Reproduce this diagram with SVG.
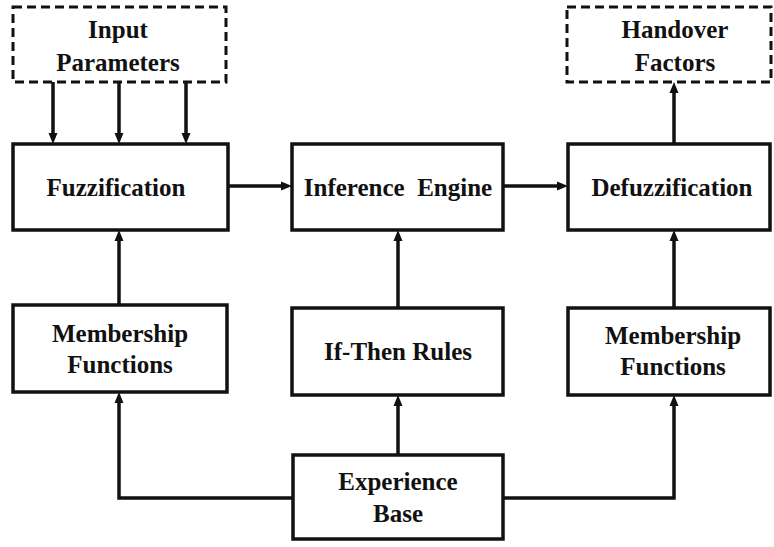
<svg xmlns="http://www.w3.org/2000/svg" width="774" height="547" viewBox="0 0 774 547">
<rect width="774" height="547" fill="#fff"/>
<g id="connectors">
<g fill="none" stroke="#111" stroke-width="3.5">
<line x1="53" y1="82" x2="53" y2="134"/>
<line x1="119" y1="82" x2="119" y2="134"/>
<line x1="186" y1="82" x2="186" y2="134"/>
<line x1="228" y1="186" x2="282" y2="186"/>
<line x1="503" y1="186" x2="558" y2="186"/>
<line x1="674" y1="144" x2="674" y2="92"/>
<line x1="119" y1="305" x2="119" y2="240"/>
<line x1="398" y1="308" x2="398" y2="240"/>
<line x1="674" y1="308" x2="674" y2="240"/>
<line x1="398" y1="455" x2="398" y2="405"/>
<polyline points="293,498 119,498 119,402"/>
<polyline points="503,498 674,498 674,405"/>
</g>
<g fill="#111">
<polygon points="48.5,133 57.5,133 53,144"/>
<polygon points="114.5,133 123.5,133 119,144"/>
<polygon points="181.5,133 190.5,133 186,144"/>
<polygon points="281,181.5 281,190.5 292,186"/>
<polygon points="557,181.5 557,190.5 568,186"/>
<polygon points="669.5,93 678.5,93 674,82"/>
<polygon points="114.5,241 123.5,241 119,230"/>
<polygon points="393.5,241 402.5,241 398,230"/>
<polygon points="669.5,241 678.5,241 674,230"/>
<polygon points="393.5,406 402.5,406 398,395"/>
<polygon points="114.5,403 123.5,403 119,392"/>
<polygon points="669.5,406 678.5,406 674,395"/>
</g>
</g>
<g id="input">
<rect x="13" y="7" width="213" height="75" fill="#fff" stroke="#111" stroke-width="3" stroke-dasharray="9 5"/>
<text x="118" y="38" font-family="Liberation Serif" font-weight="bold" font-size="25" text-anchor="middle" fill="#111">Input</text>
<text x="118" y="71" font-family="Liberation Serif" font-weight="bold" font-size="25" text-anchor="middle" fill="#111">Parameters</text>
</g>
<g id="handover">
<rect x="567" y="7" width="204" height="75" fill="#fff" stroke="#111" stroke-width="3" stroke-dasharray="9 5"/>
<text x="675" y="38" font-family="Liberation Serif" font-weight="bold" font-size="25" text-anchor="middle" fill="#111">Handover</text>
<text x="675" y="71" font-family="Liberation Serif" font-weight="bold" font-size="25" text-anchor="middle" fill="#111">Factors</text>
</g>
<g id="fuzzification">
<rect x="13" y="144" width="215" height="86" fill="#fff" stroke="#111" stroke-width="3.5"/>
<text x="116" y="196" font-family="Liberation Serif" font-weight="bold" font-size="25" text-anchor="middle" fill="#111">Fuzzification</text>
</g>
<g id="inference">
<rect x="292" y="144" width="211" height="86" fill="#fff" stroke="#111" stroke-width="3.5"/>
<text x="398" y="196" font-family="Liberation Serif" font-weight="bold" font-size="25" text-anchor="middle" fill="#111" xml:space="preserve">Inference  Engine</text>
</g>
<g id="defuzzification">
<rect x="568" y="144" width="202" height="86" fill="#fff" stroke="#111" stroke-width="3.5"/>
<text x="672" y="196" font-family="Liberation Serif" font-weight="bold" font-size="25" text-anchor="middle" fill="#111">Defuzzification</text>
</g>
<g id="membership-left">
<rect x="13" y="305" width="214" height="87" fill="#fff" stroke="#111" stroke-width="3.5"/>
<text x="120" y="342" font-family="Liberation Serif" font-weight="bold" font-size="25" text-anchor="middle" fill="#111">Membership</text>
<text x="120" y="373" font-family="Liberation Serif" font-weight="bold" font-size="25" text-anchor="middle" fill="#111">Functions</text>
</g>
<g id="ifthen">
<rect x="292" y="308" width="211" height="87" fill="#fff" stroke="#111" stroke-width="3.5"/>
<text x="398" y="360" font-family="Liberation Serif" font-weight="bold" font-size="25" text-anchor="middle" fill="#111">If-Then Rules</text>
</g>
<g id="membership-right">
<rect x="568" y="308" width="202" height="87" fill="#fff" stroke="#111" stroke-width="3.5"/>
<text x="673" y="344" font-family="Liberation Serif" font-weight="bold" font-size="25" text-anchor="middle" fill="#111">Membership</text>
<text x="673" y="375" font-family="Liberation Serif" font-weight="bold" font-size="25" text-anchor="middle" fill="#111">Functions</text>
</g>
<g id="experience">
<rect x="293" y="455" width="210" height="84" fill="#fff" stroke="#111" stroke-width="3.5"/>
<text x="398" y="490" font-family="Liberation Serif" font-weight="bold" font-size="25" text-anchor="middle" fill="#111">Experience</text>
<text x="398" y="522" font-family="Liberation Serif" font-weight="bold" font-size="25" text-anchor="middle" fill="#111">Base</text>
</g>
</svg>
